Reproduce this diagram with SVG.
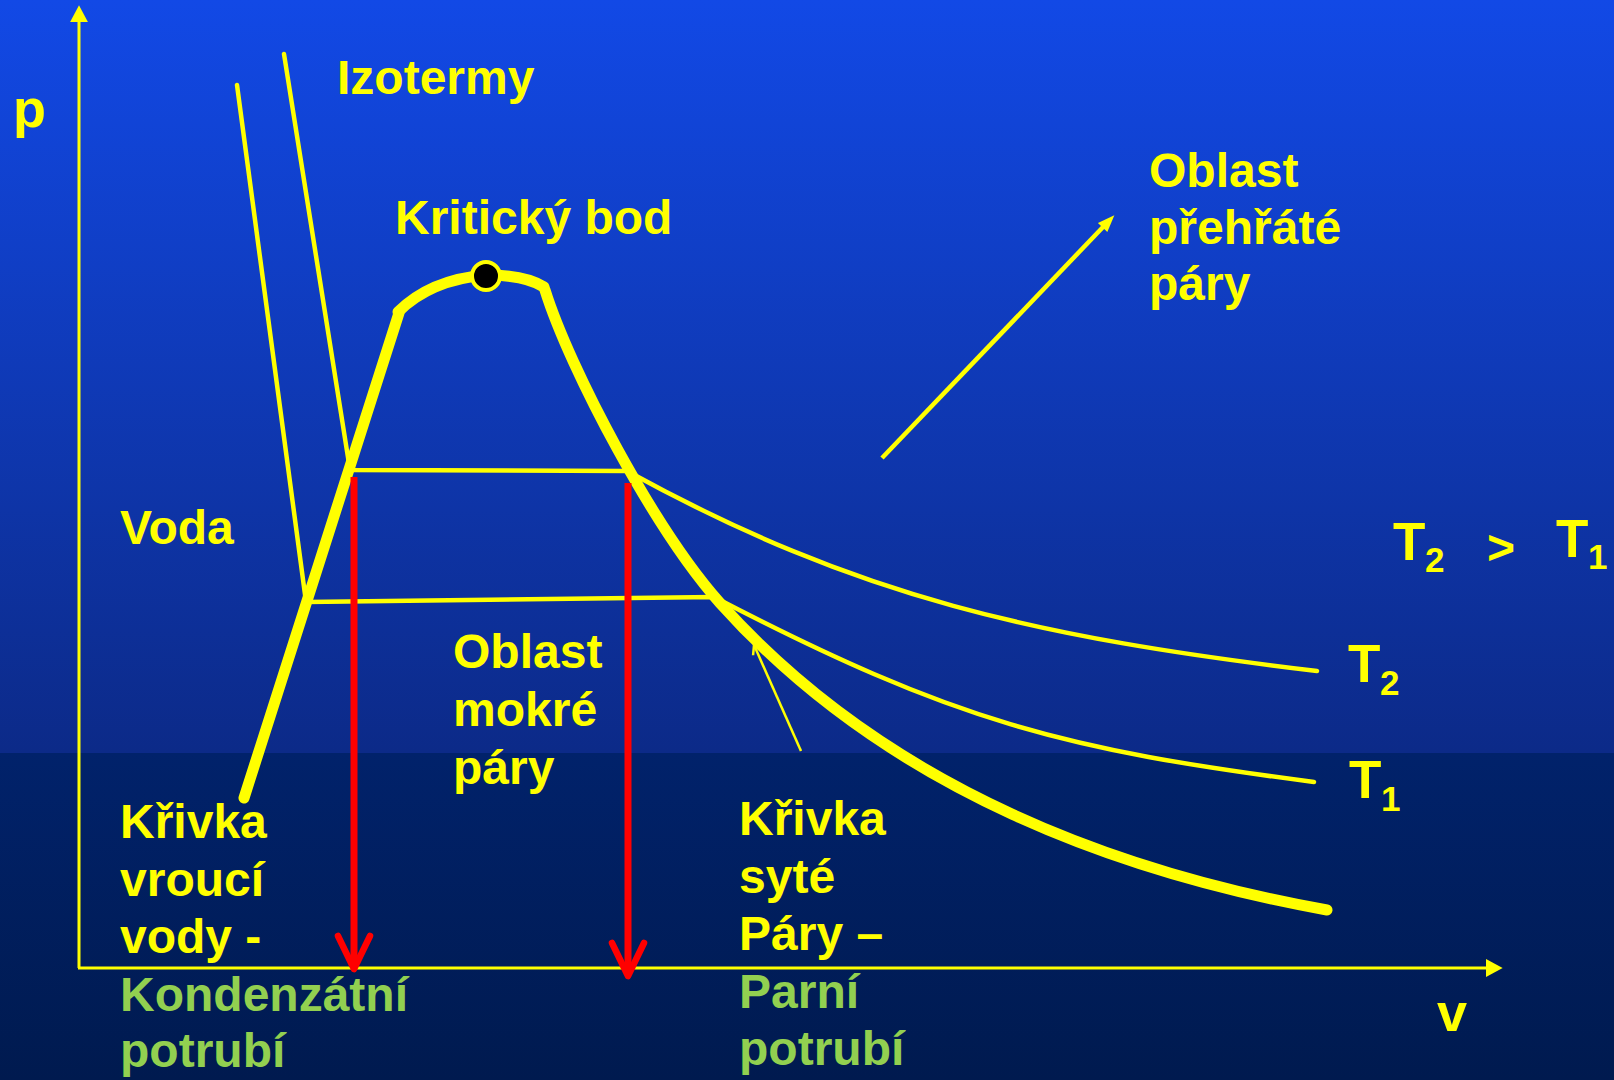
<svg xmlns="http://www.w3.org/2000/svg" width="1614" height="1080" viewBox="0 0 1614 1080">
<defs>
<linearGradient id="bgTop" x1="0" y1="0" x2="0" y2="1">
<stop offset="0" stop-color="#1249E6"/>
<stop offset="1" stop-color="#0C2A88"/>
</linearGradient>
<linearGradient id="bgBot" x1="0" y1="0" x2="0" y2="1">
<stop offset="0" stop-color="#01226B"/>
<stop offset="1" stop-color="#001A4F"/>
</linearGradient>
<marker id="axisHead" markerUnits="userSpaceOnUse" orient="auto" refX="0" refY="0" markerWidth="20" markerHeight="20" viewBox="-1 -9 18 18" overflow="visible">
<path d="M0,-8 L15,0 L0,8 z" fill="#FFFF00"/>
</marker>
<marker id="redHead" markerUnits="userSpaceOnUse" orient="auto" refX="0" refY="0" markerWidth="40" markerHeight="40" viewBox="-35 -20 40 40" overflow="visible">
<path d="M-30,-16 L3,0 L-30,16" fill="none" stroke="#FF0000" stroke-width="6.5" stroke-linecap="round" stroke-linejoin="round"/>
</marker>
<marker id="yHead" markerUnits="userSpaceOnUse" orient="auto" refX="0" refY="0" markerWidth="20" markerHeight="20" viewBox="-1 -8 20 16" overflow="visible">
<path d="M-2,-6.5 L15,0 L-2,6.5 z" fill="#FFFF00"/>
</marker>
<marker id="pHead" markerUnits="userSpaceOnUse" orient="auto" refX="0" refY="0" markerWidth="12" markerHeight="12" viewBox="-10 -6 12 12" overflow="visible">
<path d="M-9,-5 L0,0 L-9,5" fill="none" stroke="#FFFF00" stroke-width="2.5"/>
</marker>
<style>
.t{font-family:"Liberation Sans",Arial,sans-serif;font-weight:bold;font-size:48px;fill:#FFFF00}
.g{fill:#92D050}
.big{font-size:53px}
.sub{font-size:35px}
.thin{fill:none;stroke:#FFFF00;stroke-width:4.5;stroke-linejoin:round}
.thick{fill:none;stroke:#FFFF00;stroke-width:11;stroke-linecap:round;stroke-linejoin:round}
.axis{fill:none;stroke:#FFFF00;stroke-width:3}
.red{fill:none;stroke:#FF0000;stroke-width:7}
</style>
</defs>
<rect x="0" y="0" width="1614" height="753" fill="url(#bgTop)"/>
<rect x="0" y="753" width="1614" height="327" fill="url(#bgBot)"/>

<g id="axes">
<line class="axis" x1="79" y1="968" x2="79" y2="22" marker-end="url(#axisHead)"/>
<line class="axis" x1="78" y1="968" x2="1486" y2="968" marker-end="url(#axisHead)"/>
</g>

<g id="isotherm-T2">
<path class="thin" d="M284,54 L350,470 L627,471 C857,597.5 1037,637.4 1317,671" stroke-linecap="round"/>
</g>
<g id="isotherm-T1">
<path class="thin" d="M237,85 L306,602 L714,597 C954,721.8 1064,749.5 1314,782" stroke-linecap="round"/>
</g>

<g id="saturation-curve">
<path class="thick" d="M244,798 L399,313" stroke-linecap="butt"/>
<path class="thick" d="M398,312 C420,290 450,278 486,275 C510,275 530,278 544,287"/>
<path class="thick" d="M545,290 C570,370 655,530 720,603 C890,793 1127,874 1327,910"/>
</g>

<g id="critical-point">
<circle cx="486" cy="276" r="14" fill="#000000" stroke="#FFFF00" stroke-width="4"/>
</g>

<g id="connectors">
<line class="red" x1="354" y1="477" x2="354" y2="966" marker-end="url(#redHead)"/>
<line class="red" x1="628" y1="483" x2="628" y2="973" marker-end="url(#redHead)"/>
<line x1="882" y1="458" x2="1104" y2="226" stroke="#FFFF00" stroke-width="4.5" marker-end="url(#yHead)"/>
<line x1="801" y1="751" x2="754" y2="645" stroke="#FFFF00" stroke-width="2.5" marker-end="url(#pHead)"/>
</g>

<g id="label-p"><text class="t" x="13" y="127" style="font-size:54px">p</text></g>
<g id="label-v"><text class="t" x="1437" y="1031" style="font-size:54px">v</text></g>
<g id="label-izotermy"><text class="t" x="337" y="94">Izotermy</text></g>
<g id="label-kriticky"><text class="t" x="395" y="234">Kritický bod</text></g>
<g id="label-prehrata">
<text class="t" x="1149" y="187">Oblast</text>
<text class="t" x="1149" y="244">přehřáté</text>
<text class="t" x="1149" y="300">páry</text>
</g>
<g id="label-voda"><text class="t" x="120" y="544">Voda</text></g>
<g id="label-compare">
<text class="t big" x="1393" y="560">T</text><text class="t sub" x="1425" y="572">2</text>
<text class="t" x="1487" y="564">&gt;</text>
<text class="t big" x="1556" y="557">T</text><text class="t sub" x="1588" y="569">1</text>
</g>
<g id="label-T2"><text class="t big" x="1348" y="682">T</text><text class="t sub" x="1380" y="695">2</text></g>
<g id="label-T1"><text class="t big" x="1349" y="798">T</text><text class="t sub" x="1381" y="811">1</text></g>
<g id="label-mokra">
<text class="t" x="453" y="668">Oblast</text>
<text class="t" x="453" y="726">mokré</text>
<text class="t" x="453" y="784">páry</text>
</g>
<g id="label-vrouci">
<text class="t" x="120" y="838">Křivka</text>
<text class="t" x="120" y="896">vroucí</text>
<text class="t" x="120" y="953">vody -</text>
<text class="t g" x="120" y="1011">Kondenzátní</text>
<text class="t g" x="120" y="1067">potrubí</text>
</g>
<g id="label-syta">
<text class="t" x="739" y="835">Křivka</text>
<text class="t" x="739" y="893">syté</text>
<text class="t" x="739" y="950">Páry –</text>
<text class="t g" x="739" y="1008">Parní</text>
<text class="t g" x="739" y="1065">potrubí</text>
</g>
</svg>
